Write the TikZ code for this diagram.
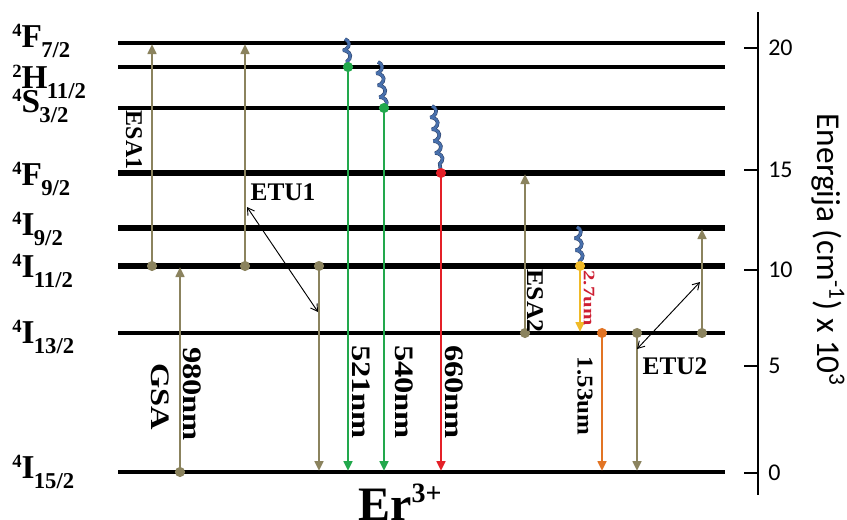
\documentclass[tikz,border=0pt]{standalone}
\usepackage{fontspec}
\setmainfont{Liberation Serif}
\newfontfamily\axfont{Carlito}
\usetikzlibrary{arrows.meta,decorations.pathmorphing}
\definecolor{tanc}{RGB}{139,131,94}
\definecolor{grn}{RGB}{34,168,76}
\definecolor{rd}{RGB}{228,32,40}
\definecolor{ylw}{RGB}{240,186,40}
\definecolor{org}{RGB}{226,116,36}
\definecolor{wblue}{RGB}{72,112,172}
\definecolor{wdark}{RGB}{40,60,100}
\definecolor{rtext}{RGB}{205,30,50}
\newcommand{\lv}[3]{\raisebox{7.8pt}{\fontsize{14}{14}\selectfont #1}#2\kern-0.5pt\raisebox{-8.2pt}{\fontsize{17}{17}\selectfont #3}}
\newcommand{\stretchtxt}[2]{\scalebox{#1}[1]{#2}}
\begin{document}
\begin{tikzpicture}[x=0.75pt,y=-0.75pt,
  lvl/.style={line width=#1},
  arr/.style={line width=2.2pt, draw=#1, -{Triangle[length=7.5pt,width=6.5pt]}},
  dot/.style={fill=#1},
  wavedec/.style={decorate,
     decoration={coil, aspect=0.6, segment length=9pt, amplitude=2.6pt}},
  wave/.style={wavedec, draw=wblue, line width=1.9pt},
  wavecore/.style={wavedec, draw=wdark, line width=2.7pt},
  etu/.style={line width=0.7pt, {Straight Barb[length=5pt,width=6pt]}-{Straight Barb[length=5pt,width=6pt]}},
  lname/.style={anchor=base west, inner sep=0, font=\bfseries\fontsize{25}{25}\selectfont},
  vlab/.style={rotate=-90, inner sep=0, font=\bfseries\fontsize{20}{20}\selectfont},
  slab/.style={rotate=-90, inner sep=0, font=\bfseries\fontsize{18}{18}\selectfont},
  hlab/.style={inner sep=0, font=\bfseries\fontsize{19}{19}\selectfont},
  tick/.style={line width=1.2pt},
  ticklab/.style={anchor=west, inner sep=0, font=\axfont\fontsize{18}{18}\selectfont}
]
\useasboundingbox (0,0) rectangle (847,519);
\clip (0,0) rectangle (847,519);

% ---------- energy levels ----------
\coordinate (F7w) at (118,43);  \coordinate (F7e) at (725,43);
\coordinate (H11w) at (118,67); \coordinate (H11e) at (725,67);
\coordinate (S3w) at (118,108); \coordinate (S3e) at (725,108);
\coordinate (F9w) at (118,173); \coordinate (F9e) at (725,173);
\coordinate (I9w) at (118,228); \coordinate (I9e) at (725,228);
\coordinate (I11w) at (118,266); \coordinate (I11e) at (725,266);
\coordinate (I13w) at (118,333); \coordinate (I13e) at (725,333);
\coordinate (I15w) at (118,472); \coordinate (I15e) at (725,472);
\draw[lvl=3pt] (F7w) -- (F7e);
\draw[lvl=3pt] (H11w) -- (H11e);
\draw[lvl=2.7pt] (S3w) -- (S3e);
\draw[lvl=5pt] (F9w) -- (F9e);
\draw[lvl=4.6pt] (I9w) -- (I9e);
\draw[lvl=4.8pt] (I11w) -- (I11e);
\draw[lvl=2.3pt] (I13w) -- (I13e);
\draw[lvl=2.6pt] (I15w) -- (I15e);

% ---------- level names ----------
\node[lname] (nF7) at (12,47) {\lv{4}{F}{7/2}};
\node[lname] (nH11) at (12,88) {\lv{2}{H}{11/2}};
\node[lname] (nS3) at (12,112) {\lv{4}{S}{3/2}};
\node[lname] (nF9) at (12,185) {\lv{4}{F}{9/2}};
\node[lname] (nI9) at (12,235) {\lv{4}{I}{9/2}};
\node[lname] (nI11) at (12,277) {\lv{4}{I}{11/2}};
\node[lname] (nI13) at (12,343) {\lv{4}{I}{13/2}};
\node[lname] (nI15) at (12,478) {\lv{4}{I}{15/2}};

% ---------- tan excitation / transfer arrows ----------
\coordinate (esa1a) at (152,266); \coordinate (esa1b) at (152,44);
\coordinate (etu1a) at (245,266); \coordinate (etu1b) at (245,44);
\coordinate (gsaa) at (180,472);  \coordinate (gsab) at (180,267);
\coordinate (d1a) at (319,266);   \coordinate (d1b) at (319,471);
\coordinate (esa2a) at (525,333); \coordinate (esa2b) at (525,174);
\coordinate (d2a) at (637,333);   \coordinate (d2b) at (637,471);
\coordinate (u2a) at (702,333);   \coordinate (u2b) at (702,229);
\draw[arr=tanc] (esa1a) -- (esa1b);
\draw[arr=tanc] (etu1a) -- (etu1b);
\draw[arr=tanc] (gsaa) -- (gsab);
\draw[arr=tanc] (d1a) -- (d1b);
\draw[arr=tanc] (esa2a) -- (esa2b);
\draw[arr=tanc] (d2a) -- (d2b);
\draw[arr=tanc] (u2a) -- (u2b);

% ---------- emission arrows ----------
\coordinate (g1a) at (348,67);  \coordinate (g1b) at (348,471);
\coordinate (g2a) at (384,108); \coordinate (g2b) at (384,471);
\coordinate (r1a) at (441,173); \coordinate (r1b) at (441,471);
\coordinate (y1a) at (580,266); \coordinate (y1b) at (580,332);
\coordinate (o1a) at (602,333); \coordinate (o1b) at (602,471);
\draw[arr=grn] (g1a) -- (g1b);
\draw[arr=grn] (g2a) -- (g2b);
\draw[arr=rd] (r1a) -- (r1b);
\draw[arr=ylw] (y1a) -- (y1b);
\draw[arr=org] (o1a) -- (o1b);

% ---------- non-radiative relaxation ----------
\coordinate (w1a) at (345,39);  \coordinate (w1b) at (348,67);
\coordinate (w2a) at (378,62);  \coordinate (w2b) at (384,108);
\coordinate (w3a) at (432,106); \coordinate (w3b) at (441,173);
\coordinate (w4a) at (577,227); \coordinate (w4b) at (580,266);
\foreach \wa/\wb in {w1a/w1b,w2a/w2b,w3a/w3b,w4a/w4b}{
  \draw[wavecore] (\wa) -- (\wb);
  \draw[wave] (\wa) -- (\wb);
}

% ---------- dots ----------
\fill[dot=tanc] (esa1a) circle[radius=3.8pt];
\fill[dot=tanc] (etu1a) circle[radius=3.8pt];
\fill[dot=tanc] (gsaa) circle[radius=3.8pt];
\fill[dot=tanc] (d1a) circle[radius=3.8pt];
\fill[dot=tanc] (esa2a) circle[radius=3.8pt];
\fill[dot=tanc] (d2a) circle[radius=3.8pt];
\fill[dot=tanc] (u2a) circle[radius=3.8pt];
\fill[dot=grn] (g1a) circle[radius=3.8pt];
\fill[dot=grn] (g2a) circle[radius=3.8pt];
\fill[dot=rd] (r1a) circle[radius=3.8pt];
\fill[dot=ylw] (y1a) circle[radius=3.8pt];
\fill[dot=org] (o1a) circle[radius=3.8pt];

% ---------- energy transfer arrows ----------
\coordinate (e1a) at (247,207); \coordinate (e1b) at (318,312);
\coordinate (e2a) at (637,349); \coordinate (e2b) at (700,282);
\draw[etu] (e1a) -- (e1b);
\draw[etu] (e2a) -- (e2b);

% ---------- transition labels ----------
\node[slab] (tESA1) at (134,140) {ESA1};
\node[slab] (tESA2) at (535,301) {\stretchtxt{1.07}{ESA2}};
\node[hlab] (tETU1) at (283,192) {ETU1};
\node[hlab] (tETU2) at (675,366) {ETU2};
\node[vlab] (tGSA) at (160,397) {\stretchtxt{1.22}{GSA}};
\node[vlab] (t980) at (192,394) {\stretchtxt{1.22}{980nm}};
\node[vlab] (t521) at (361,392) {\stretchtxt{1.22}{521nm}};
\node[vlab] (t540) at (404,392) {\stretchtxt{1.22}{540nm}};
\node[vlab] (t660) at (454,392) {\stretchtxt{1.22}{660nm}};
\node[rotate=-90, inner sep=0, font=\bfseries\fontsize{17}{17}\selectfont] (t153) at (585,396) {\stretchtxt{1.1}{1.53um}};
\node[rotate=-90, inner sep=0, text=rtext, font=\bfseries\fontsize{12}{12}\selectfont] (t27) at (589,298) {\stretchtxt{1.3}{2.7um}};

% ---------- ion label ----------
\node[anchor=base west, inner sep=0, font=\bfseries\fontsize{36}{36}\selectfont] (ion) at (358,520) {Er\raisebox{13.5pt}{\fontsize{21}{21}\selectfont 3+}};

% ---------- energy axis ----------
\coordinate (axt) at (758,12); \coordinate (axb) at (758,495);
\draw[line width=1.3pt] (axt) -- (axb);
\foreach \yy/\lab in {48/20,170/15,270/10,366/5,473/0}{
  \coordinate (tk\lab) at (758,\yy);
  \draw[tick] (tk\lab) -- ++(-14,0);
  \node[ticklab] (tl\lab) at (768,\yy) {\lab};
}
\node[rotate=-90, inner sep=0, font=\axfont\fontsize{25}{25}\selectfont] (axlab) at (828,250) {Energija (cm\textsuperscript{-1}) x 10\textsuperscript{3}};
\end{tikzpicture}
\end{document}
